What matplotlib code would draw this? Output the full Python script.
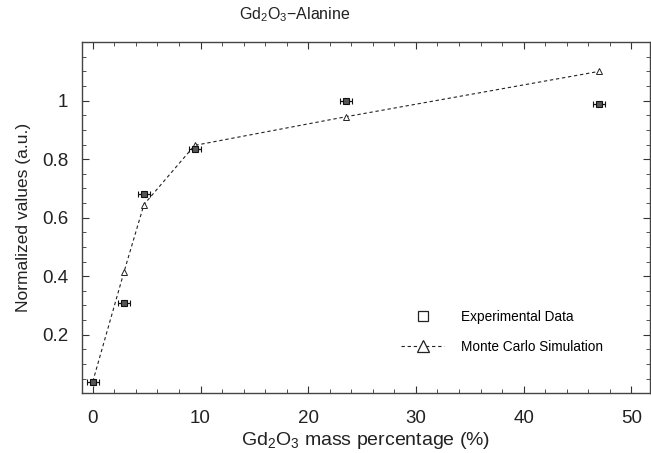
import matplotlib
matplotlib.use('Agg')
import matplotlib.pyplot as plt
from matplotlib.ticker import MultipleLocator, FormatStrFormatter
from matplotlib.lines import Line2D

# experimental data
exp_x = [0, 2.9, 4.75, 9.45, 23.5, 47.0]
exp_y = [0.04, 0.31, 0.68, 0.835, 1.0, 0.99]
exp_xerr = [0.55, 0.55, 0.55, 0.55, 0.55, 0.55]

# monte carlo simulation
mc_x = [0, 2.9, 4.75, 9.45, 23.5, 47.0]
mc_y = [0.04, 0.415, 0.645, 0.847, 0.945, 1.10]

plt.rcParams['font.family'] = ['Liberation Sans', 'DejaVu Sans']
plt.rcParams['mathtext.fontset'] = 'custom'
plt.rcParams['mathtext.rm'] = 'Liberation Sans'
plt.rcParams['mathtext.it'] = 'Liberation Sans'

fig = plt.figure(figsize=(6.51, 4.53), dpi=100)
ax = fig.add_axes([0.126, 0.132, 0.872, 0.775])

ax.plot(mc_x, mc_y, color='#222222', linestyle=(0, (3, 2.5)), linewidth=0.8,
        marker='^', markersize=4, mfc='white', mec='#222222', mew=0.7)
ax.errorbar(exp_x, exp_y, xerr=exp_xerr, fmt='s', markersize=4,
            mfc='#555555', mec='#111111', mew=0.8, ecolor='#111111',
            elinewidth=0.9, capsize=2, capthick=0.9, zorder=3)

ax.set_xlim(-1, 51.7)
ax.set_ylim(0, 1.2)
ax.set_xticks([0, 10, 20, 30, 40, 50])
ax.set_yticks([0.2, 0.4, 0.6, 0.8, 1.0])
ax.yaxis.set_major_formatter(FormatStrFormatter('%g'))
ax.xaxis.set_minor_locator(MultipleLocator(2))
ax.yaxis.set_minor_locator(MultipleLocator(0.05))
ax.tick_params(which='both', direction='in', top=True, right=True,
               colors='#333333', labelsize=13.5, labelcolor='#222222')
ax.tick_params(which='major', length=5)
ax.tick_params(which='minor', length=3)
ax.tick_params(axis='x', which='major', pad=12)
ax.tick_params(axis='y', which='major', pad=10)
for s in ax.spines.values():
    s.set_color('#444444')
    s.set_linewidth(1.0)

fig.text(295 / 651, 1 - 15 / 453, 'Gd$_2$O$_3$\u2212Alanine', fontsize=11.5,
         color='#222222', ha='center', va='center')
ax.set_xlabel('Gd$_2$O$_3$ mass percentage (%)', fontsize=14, color='#222222',
              labelpad=2)
ax.set_ylabel('Normalized values (a.u.)', fontsize=12.5, color='#222222',
              labelpad=8)

handles = [
    Line2D([], [], linestyle='none', marker='s', markersize=7, mfc='white',
           mec='#222222', mew=0.9),
    Line2D([], [], color='#222222', linestyle=(0, (3, 2.5)), linewidth=0.8,
           marker='^', markersize=9, mfc='white', mec='#222222', mew=0.9),
]
ax.legend(handles, ['Experimental Data', 'Monte Carlo Simulation'],
          loc='center left', bbox_to_anchor=(0.54, 0.175), frameon=False,
          fontsize=9.8, handlelength=3.2, labelspacing=1.2, handletextpad=1.2)

fig.savefig('out.png', dpi=100)
